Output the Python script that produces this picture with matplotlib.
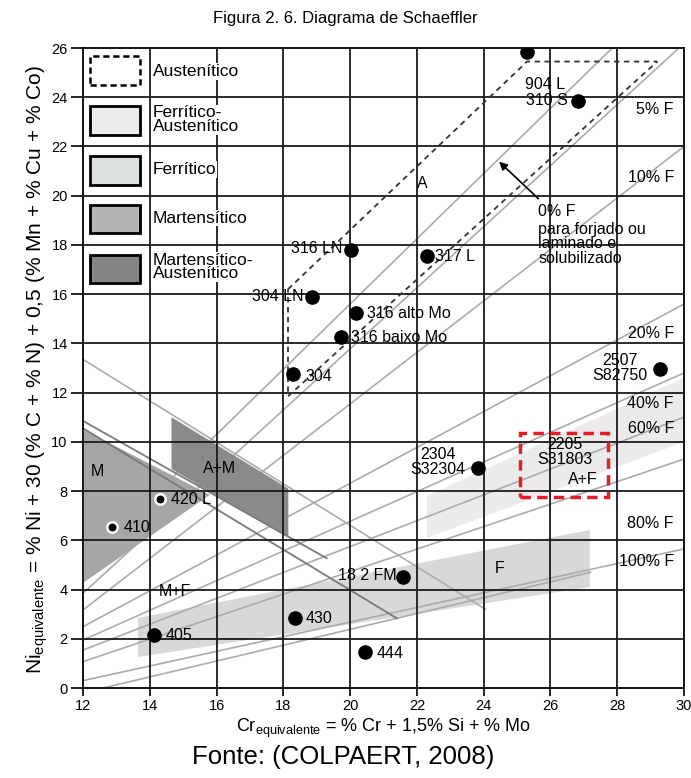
import matplotlib
matplotlib.use("Agg")
import matplotlib.pyplot as plt
from matplotlib.patches import Polygon, Rectangle
from matplotlib import font_manager

names = {f.name for f in font_manager.fontManager.ttflist}
narrow = "Liberation Sans Narrow" if "Liberation Sans Narrow" in names else "Liberation Sans"
plt.rcParams["font.family"] = ["Liberation Sans", "DejaVu Sans"]
plt.rcParams["mathtext.fontset"] = "custom"
plt.rcParams["mathtext.rm"] = "Liberation Sans"

# eixos
x_ticks = list(range(12, 31, 2))
y_ticks = list(range(0, 27, 2))

# regioes (Cr_eq, Ni_eq)
ferr_aust_band = [(22.3, 7.8), (30, 12.6), (30, 10.0), (22.3, 6.1)]
ferr_band = [(13.65, 2.85), (27.18, 6.42), (27.18, 4.1), (13.65, 1.26)]
mart_region = [(12, 10.5), (15.8, 7.85), (12, 4.27)]
mart_aust_region = [(14.65, 11.0), (18.15, 8.1), (18.15, 6.1), (14.65, 8.9)]
aust_region = [(18.14, 16.2), (25.3, 25.45), (29.2, 25.45), (18.14, 11.85)]

# linhas de ferrita e linhas auxiliares
ferrite_lines = [
    [(12, 5.0), (27.85, 26.0)],
    [(12, 3.85), (29.85, 26.0)],
    [(12, 3.17), (30, 22.0)],
    [(12, 2.49), (30, 15.6)],
    [(12, 1.95), (30, 12.8)],
    [(12, 1.54), (30, 11.0)],
    [(12, 1.07), (30, 9.3)],
    [(12, 0.3), (30, 5.65)],
    [(12.6, 0.0), (27.2, 4.7)],
    [(12, 13.35), (24.05, 3.2)],
]
dark_lines = [
    [(12, 10.55), (21.4, 2.83)],
    [(12, 10.85), (19.3, 5.27)],
]

# ligas
grades = ["904 L", "310 S", "316 LN", "317 L", "304 LN", "316 alto Mo", "316 baixo Mo",
          "304", "2507", "2304", "18 2 FM", "430", "444", "405"]
grade_x = [25.29, 26.82, 20.04, 22.29, 18.85, 20.19, 19.72, 18.3, 29.28, 23.84, 21.59, 18.35, 20.44, 14.13]
grade_y = [25.85, 23.86, 17.8, 17.53, 15.9, 15.23, 14.25, 12.76, 12.95, 8.93, 4.52, 2.83, 1.48, 2.15]
small_grades = ["410", "420 L"]
small_x = [12.88, 14.31]
small_y = [6.56, 7.67]

grade_labels = [
    ("904 L", 25.23, 24.5, "left"),
    ("310 S", 26.52, 23.86, "right"),
    ("316 LN", 19.78, 17.85, "right"),
    ("317 L", 22.55, 17.53, "left"),
    ("304 LN", 18.6, 15.9, "right"),
    ("316 alto Mo", 20.5, 15.23, "left"),
    ("316 baixo Mo", 20.02, 14.25, "left"),
    ("304", 18.65, 12.66, "left"),
    ("18 2 FM", 21.4, 4.59, "right"),
    ("430", 18.68, 2.83, "left"),
    ("444", 20.79, 1.41, "left"),
    ("405", 14.46, 2.15, "left"),
    ("410", 13.21, 6.5, "left"),
    ("420 L", 14.63, 7.67, "left"),
]
stacked_labels = [
    ("2507\nS82750", 28.08, 12.98),
    ("2304\nS32304", 22.63, 9.19),
    ("2205\nS31803", 26.43, 9.57),
]
region_labels = [
    ("A", 22.15, 20.5), ("M", 12.43, 8.79), ("A+M", 16.1, 8.93),
    ("M+F", 14.76, 3.92), ("F", 24.49, 4.87),
]
ferrite_labels = ["5% F", "10% F", "20% F", "40% F", "60% F", "80% F", "100% F"]
ferrite_label_y = [23.5, 20.72, 14.42, 11.57, 10.56, 6.7, 5.14]

legend_names = ["Austenítico", "Ferrítico-\nAustenítico", "Ferrítico", "Martensítico",
                "Martensítico-\nAustenítico"]
legend_colors = ["white", "#ececec", "#dcdfe0", "#b5b5b5", "#858585"]
legend_rows = [(24.51, 25.66), (22.48, 23.63), (20.45, 21.6), (18.48, 19.63), (16.46, 17.6)]
legend_text_y = [25.05, 23.09, 21.06, 19.09, 17.1]

fig = plt.figure(figsize=(6.91, 7.78), dpi=100)
ax = fig.add_axes([83 / 691, 1 - 688 / 778, 601 / 691, 640 / 778])
ax.set_xlim(12, 30)
ax.set_ylim(0, 26)

ax.add_patch(Polygon(ferr_aust_band, closed=True, fc="#ebebeb", ec="none", zorder=1))
ax.add_patch(Polygon(ferr_band, closed=True, fc="#d8d8d8", ec="none", zorder=1))

for seg in ferrite_lines:
    ax.plot([seg[0][0], seg[1][0]], [seg[0][1], seg[1][1]], color="#ababab", lw=1.2, zorder=2)

ax.add_patch(Polygon(mart_region, closed=True, fc="#a6a6a6", ec="none", zorder=3))
ax.add_patch(Polygon(mart_aust_region, closed=True, fc="#8a8a8a", ec="none", zorder=3))

for seg in dark_lines:
    ax.plot([seg[0][0], seg[1][0]], [seg[0][1], seg[1][1]], color="#7a7a7a", lw=1.3, zorder=3.5)

for xv in x_ticks:
    ax.axvline(xv, color="#1a1a1a", lw=1.3, zorder=4)
for yv in y_ticks:
    ax.axhline(yv, color="#1a1a1a", lw=1.3, zorder=4)

ax.add_patch(Polygon(aust_region, closed=True, fill=False, ec="#333333", lw=1.3,
                     ls=(0, (3, 2.5)), zorder=5))

# legenda
for name, col, (y0, y1), ty, i in zip(legend_names, legend_colors, legend_rows, legend_text_y,
                                      range(len(legend_names))):
    if i == 0:
        ax.add_patch(Rectangle((12.2, y0), 1.5, y1 - y0, fc="white", ec="black", lw=1.8,
                               ls=(0, (2.5, 1.5)), zorder=6))
    else:
        ax.add_patch(Rectangle((12.2, y0), 1.5, y1 - y0, fc=col, ec="black", lw=2.0, zorder=6))
    ax.text(14.1, ty, name, family=narrow, fontsize=12.5, ha="left", va="center",
            linespacing=0.9, zorder=6,
            bbox=dict(fc="white", ec="none", pad=0.5))

ax.plot(grade_x, grade_y, "o", ms=9.5, color="black", zorder=7, ls="none")
ax.plot(small_x, small_y, "o", ms=7.5, mfc="black", mec="white", mew=1.8, zorder=7, ls="none")

for txt, tx, ty, ha in grade_labels:
    ax.text(tx, ty, txt, fontsize=11.5, ha=ha, va="center", zorder=6)
for txt, tx, ty in stacked_labels:
    ax.text(tx, ty, txt, fontsize=11.5, ha="center", va="center", linespacing=1.0, zorder=6)
ax.text(27.42, 8.46, "A+F", fontsize=11.5, ha="right", va="center", zorder=6)
for txt, tx, ty in region_labels:
    ax.text(tx, ty, txt, fontsize=11.5, ha="center", va="center", zorder=6)
for txt, ty in zip(ferrite_labels, ferrite_label_y):
    ax.text(29.7, ty, txt, fontsize=11.5, ha="right", va="center", zorder=6)

ax.text(25.63, 19.36, "0% F", fontsize=11.5, ha="left", va="center", zorder=6)
ax.text(25.63, 18.05, "para forjado ou\nlaminado e\nsolubilizado", fontsize=11.5, ha="left",
        va="center", linespacing=0.95, zorder=6)
ax.annotate("", xy=(24.4, 21.46), xytext=(25.7, 19.8),
            arrowprops=dict(arrowstyle="-|>", color="black", lw=1.2, mutation_scale=12),
            zorder=6)

ax.add_patch(Rectangle((25.08, 7.75), 2.65, 2.6, fill=False, ec="#e31e24", lw=2.5,
                       ls=(0, (3, 1.8)), zorder=6))

ax.set_xticks(x_ticks)
ax.set_yticks(y_ticks)
ax.tick_params(axis="x", direction="out", length=6, width=1.2, labelsize=10.5, pad=2)
ax.tick_params(axis="y", direction="out", length=9, width=1.2, labelsize=10.5, pad=2)
for sp in ax.spines.values():
    sp.set_linewidth(1.3)

fig.text(0.5, 1 - 18 / 778, "Figura 2. 6. Diagrama de Schaeffler", fontsize=12,
         ha="center", va="center")
fig.text(383.5 / 691, 1 - 728 / 778, r"Cr$_{\mathrm{equivalente}}$ = % Cr + 1,5% Si + % Mo",
         fontsize=13, ha="center", va="center")
fig.text(37 / 691, 1 - 370 / 778,
         r"Ni$_{\mathrm{equivalente}}$ = % Ni + 30 (% C + % N) + 0,5 (% Mn + % Cu + % Co)",
         fontsize=15, rotation=90, ha="center", va="center")
fig.text(343 / 691, 1 - 757 / 778, "Fonte: (COLPAERT, 2008)", fontsize=18.5,
         ha="center", va="center")

fig.savefig("out.png", dpi=100)
